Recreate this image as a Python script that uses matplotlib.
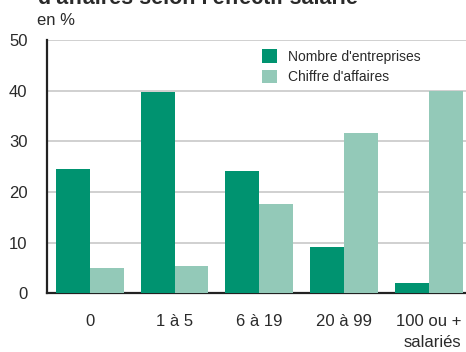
import matplotlib.pyplot as plt
import numpy as np

# Tranches d'effectif salarié
categories = ["0", "1 à 5", "6 à 19", "20 à 99", "100 ou +\nsalariés"]
nb_entreprises = [24.5, 39.7, 24.1, 9.1, 2.0]
chiffre_affaires = [5.0, 5.4, 17.6, 31.6, 40.0]

DARK = "#009370"
LIGHT = "#93c9b8"
TXT = "#2a2a2a"
plt.rcParams['font.family'] = ['Liberation Sans', 'DejaVu Sans']

fig = plt.figure(figsize=(4.66, 3.52), dpi=100)
ax = fig.add_axes([47 / 466, 1 - 293.3 / 352, 419 / 466, 253.3 / 352])

x = np.arange(len(categories))
w = 0.4
ax.bar(x - w / 2, nb_entreprises, w, color=DARK, label="Nombre d'entreprises", zorder=3)
ax.bar(x + w / 2, chiffre_affaires, w, color=LIGHT, label="Chiffre d'affaires", zorder=3)

ax.set_xlim(-0.506, 4.44)
ax.set_ylim(0, 50)
ax.set_yticks(range(0, 51, 10))
ax.yaxis.grid(True, color="#c8c8c8", linewidth=1.2, zorder=0)
ax.set_axisbelow(True)

ax.set_xticks(x)
ax.set_xticklabels(categories, multialignment='right', linespacing=1.5)
ax.tick_params(axis='both', length=0, labelsize=12, colors=TXT)
ax.tick_params(axis='x', pad=15)
ax.tick_params(axis='y', pad=14)

for s in ['top', 'right']:
    ax.spines[s].set_visible(False)
for s in ['left', 'bottom']:
    ax.spines[s].set_linewidth(1.6)
    ax.spines[s].set_color("#222222")

leg = ax.legend(loc='upper left', bbox_to_anchor=(0.5, 0.985), frameon=False,
                fontsize=10, handlelength=1.1, handleheight=1.1,
                handletextpad=0.8, labelspacing=0.45, borderaxespad=0)
for t in leg.get_texts():
    t.set_color(TXT)

fig.text(37 / 466, 1 - 25 / 352, "en %", fontsize=12, color=TXT, va='baseline')
fig.text(38 / 466, 1 - 4 / 352, "d'affaires selon l'effectif salarié", fontsize=15.5,
         fontweight='bold', color=TXT, va='baseline')

fig.savefig("out.png", dpi=100)
